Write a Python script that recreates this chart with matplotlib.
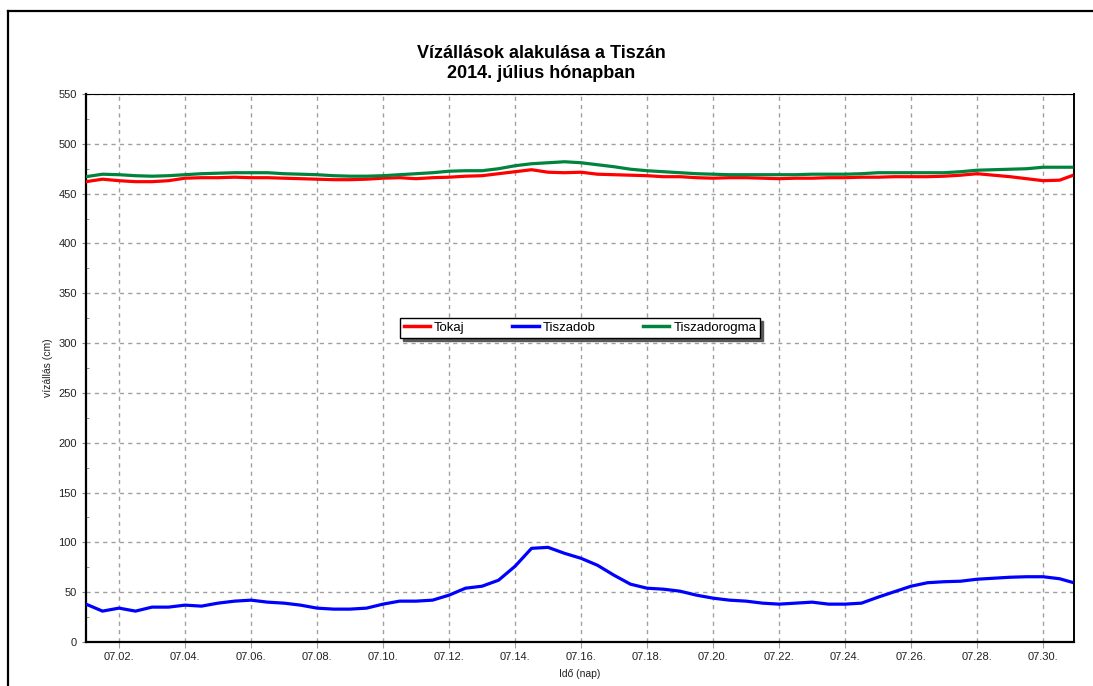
"""
Vízállások a Tiszán, 2014. július
Tokaj, Tiszadob és Tiszadorogma vízmércék
"""
import matplotlib
matplotlib.use('Agg')
import matplotlib.pyplot as plt
import matplotlib.dates as mdates
from matplotlib.lines import Line2D
import pandas as pd

plt.rcParams['font.family'] = ['Liberation Sans', 'DejaVu Sans']

# mérési időpontok: 12 óránként, plusz az utolsó érték
ido = list(pd.date_range('2014-07-01 00:00', periods=60, freq='12h')) + [pd.Timestamp('2014-07-30 21:00')]

tokaj = [462, 464.5, 463, 462, 462, 463, 465.5, 466, 466, 466.5,
         466, 466, 465.5, 465, 464.5, 464, 464, 464.5, 465.5, 466,
         465, 466, 466.5, 467.5, 468, 470, 472, 474, 471.5, 471,
         471.5, 469.5, 469, 468.5, 468, 467, 467, 466, 465.5, 466,
         466, 465.5, 465, 465.5, 465.5, 466, 466, 466.5, 466.5, 467,
         467, 467, 467.5, 468.5, 470, 468.5, 467, 465, 463, 463.5,
         468]

tiszadob = [38, 31, 34, 31, 35, 35, 37, 36, 39, 41,
            42, 40, 39, 37, 34, 33, 33, 34, 38, 41,
            41, 42, 47, 54, 56, 62, 76, 94, 95, 89,
            84, 77, 67, 58, 54, 53, 51, 47, 44, 42,
            41, 39, 38, 39, 40, 38, 38, 39, 45, 50.5,
            56, 59.5, 60.5, 61, 63, 64, 65, 65.5, 65.5, 63.5,
            60]

tiszadorogma = [467, 469.5, 469, 468, 467.5, 468, 469, 470, 470.5, 471,
                471, 471, 470, 469.5, 469, 468, 467.5, 467.5, 468, 469,
                470, 471, 472.5, 473, 473, 475, 478, 480, 481, 482,
                481, 479, 477, 474.5, 473, 472, 471, 470, 469.5, 469,
                469, 469, 469, 469, 469.5, 469.5, 469.5, 470, 471, 471,
                471, 471, 471, 472, 473.5, 474, 474.5, 475, 476.5, 476.5,
                476.5]

fig = plt.figure(figsize=(10.93, 6.86), dpi=100)
ax = fig.add_axes([86 / 1093, 1 - 642 / 686, 988 / 1093, 548 / 686])

ax.plot(ido, tokaj, color='#ff0000', lw=2.3, label='Tokaj', zorder=3)
ax.plot(ido, tiszadob, color='#0000ff', lw=2.3, label='Tiszadob', zorder=3)
ax.plot(ido, tiszadorogma, color='#00843d', lw=2.3, label='Tiszadorogma', zorder=3)

ax.set_ylim(0, 550)
ax.set_yticks(range(0, 551, 50))
ax.set_yticks(range(25, 551, 50), minor=True)
ax.set_xlim(pd.Timestamp('2014-07-01 00:00'), pd.Timestamp('2014-07-30 22:30'))
ax.xaxis.set_major_locator(mdates.DayLocator(bymonthday=range(2, 31, 2)))
ax.xaxis.set_major_formatter(mdates.DateFormatter('%m.%d.'))

ax.grid(True, color='#a0a0a0', linestyle=(0, (3, 3)), lw=1)
ax.tick_params(axis='both', labelsize=8, labelcolor='#222222')
ax.tick_params(axis='y', length=3, color='#808080')
ax.tick_params(axis='y', which='minor', length=2, direction='in', color='#808080')
ax.tick_params(axis='x', length=4, color='#a0a0a0', pad=3)

ax.spines['left'].set_linewidth(1.6)
ax.spines['bottom'].set_linewidth(1.6)
ax.spines['right'].set_linewidth(1.4)
ax.spines['top'].set_linewidth(0.8)

leg = ax.legend(loc='center', bbox_to_anchor=(0.5, 0.573), ncol=3, fontsize=9.5,
                frameon=True, fancybox=False, edgecolor='black', framealpha=1,
                handlelength=2.0, handletextpad=0.3, columnspacing=3.6,
                borderpad=0.3, shadow={'color': '0.35', 'alpha': 1})
leg.get_frame().set_linewidth(1.0)
for h in leg.legend_handles:
    h.set_linewidth(2.5)

fig.text(541 / 1093, 1 - 63.5 / 686, 'Vízállások alakulása a Tiszán\n2014. július hónapban',
         ha='center', va='center', fontsize=13, fontweight='bold', linespacing=1.25)
fig.text(48 / 1093, 1 - 368 / 686, 'vízállás (cm)', rotation=90, ha='center', va='center',
         fontsize=7.5, color='#222222')
fig.text(580 / 1093, 1 - 674 / 686, 'Idő (nap)', ha='center', va='center',
         fontsize=7.5, color='#222222')

# keret a kép körül (felső és bal oldal látszik)
fig.add_artist(Line2D([8 / 1093, 8 / 1093], [0, 1 - 11 / 686], transform=fig.transFigure,
                      color='black', lw=1.6))
fig.add_artist(Line2D([8 / 1093, 1], [1 - 11 / 686, 1 - 11 / 686], transform=fig.transFigure,
                      color='black', lw=1.6))

fig.savefig('out.png', dpi=100)
